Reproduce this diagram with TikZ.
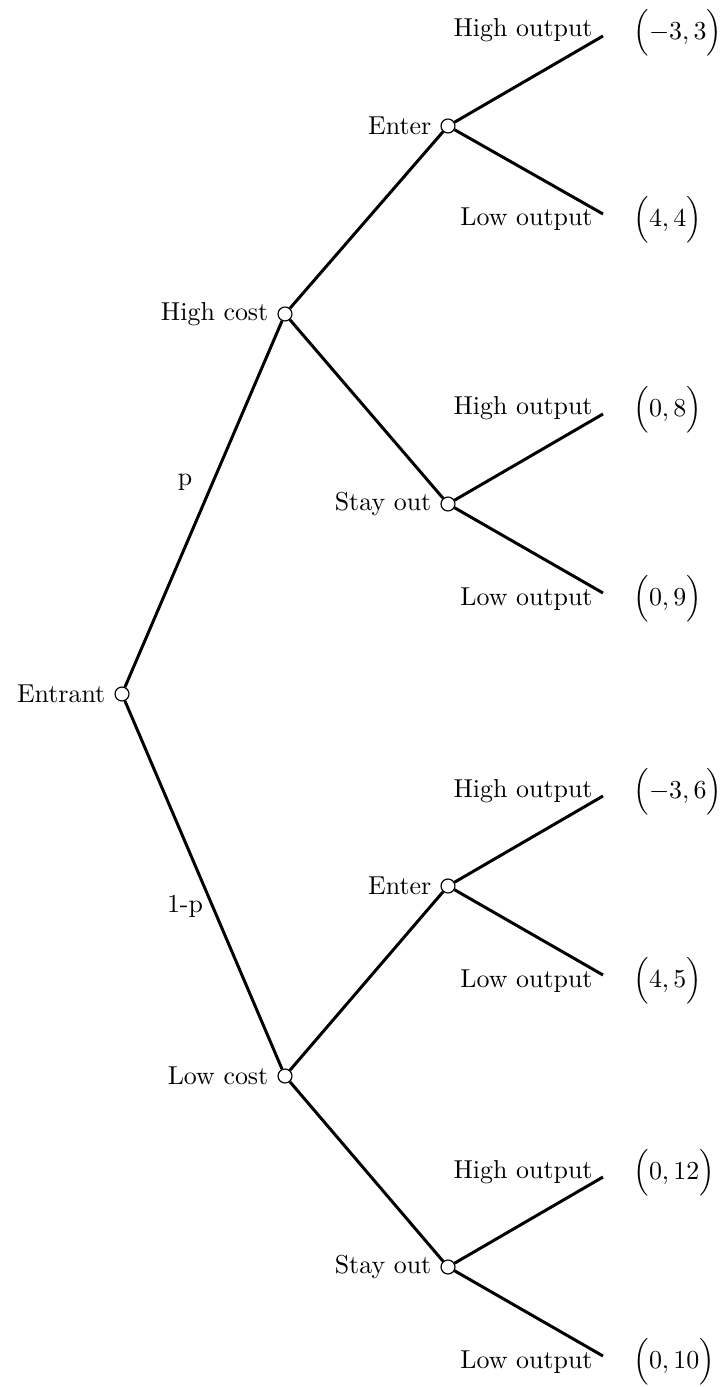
\documentclass[tikz,border=0pt]{standalone}
\usepackage{amsmath}
\begin{document}
\begin{tikzpicture}[x=0.386pt,y=-0.386pt,
  dnode/.style={circle,draw,fill=white,line width=0.45pt,inner sep=0pt,minimum size=5.4pt},
  branch/.style={line width=1.15pt},
  dlabel/.style={label distance=1.2pt},
  outlab/.style={anchor=base east,inner sep=0pt},
  payoff/.style={anchor=west,inner sep=0pt}]
\useasboundingbox (0,0) rectangle (722,1387);
% decision nodes
\node[dnode,dlabel,label=left:Entrant] (root) at (122,694) {};
\node[dnode,dlabel,label=left:High cost] (hc) at (285,314) {};
\node[dnode,dlabel,label=left:Low cost] (lc) at (285,1076) {};
\node[dnode,dlabel,label=left:Enter] (he) at (448,126) {};
\node[dnode,dlabel,label=left:Stay out] (hs) at (448,504) {};
\node[dnode,dlabel,label=left:Enter] (le) at (448,886) {};
\node[dnode,dlabel,label=left:Stay out] (ls) at (448,1267) {};
% leaves
\coordinate (heH) at (603,36);
\coordinate (heL) at (603,214);
\coordinate (hsH) at (603,414);
\coordinate (hsL) at (603,593);
\coordinate (leH) at (603,796);
\coordinate (leL) at (603,975);
\coordinate (lsH) at (603,1177);
\coordinate (lsL) at (603,1356);
% edges
\draw[branch] (root) -- (hc);
\draw[branch] (root) -- (lc);
\draw[branch] (hc) -- (he);
\draw[branch] (hc) -- (hs);
\draw[branch] (lc) -- (le);
\draw[branch] (lc) -- (ls);
\draw[branch] (he) -- (heH);
\draw[branch] (he) -- (heL);
\draw[branch] (hs) -- (hsH);
\draw[branch] (hs) -- (hsL);
\draw[branch] (le) -- (leH);
\draw[branch] (le) -- (leL);
\draw[branch] (ls) -- (lsH);
\draw[branch] (ls) -- (lsL);
% probabilities
\node (p) at (185,482) {p};
\node (q) at (185,906) {1-p};
% output labels
\foreach \n in {heH,hsH,leH,lsH}{
  \node[outlab] (t\n) at ([shift={(-10,1)}]\n) {High output};
}
\foreach \n in {heL,hsL,leL,lsL}{
  \node[outlab] (t\n) at ([shift={(-10,12)}]\n) {Low output};
}
% payoffs
\node[payoff] (pheH) at ([shift={(30,-3)}]heH) {$\Bigl(-3,3\Bigr)$};
\node[payoff] (pheL) at ([shift={(30,6)}]heL) {$\Bigl(4,4\Bigr)$};
\node[payoff] (phsH) at ([shift={(30,-4)}]hsH) {$\Bigl(0,8\Bigr)$};
\node[payoff] (phsL) at ([shift={(30,6)}]hsL) {$\Bigl(0,9\Bigr)$};
\node[payoff] (pleH) at ([shift={(30,-4)}]leH) {$\Bigl(-3,6\Bigr)$};
\node[payoff] (pleL) at ([shift={(30,6)}]leL) {$\Bigl(4,5\Bigr)$};
\node[payoff] (plsH) at ([shift={(30,-4)}]lsH) {$\Bigl(0,12\Bigr)$};
\node[payoff] (plsL) at ([shift={(30,6)}]lsL) {$\Bigl(0,10\Bigr)$};
\end{tikzpicture}
\end{document}
